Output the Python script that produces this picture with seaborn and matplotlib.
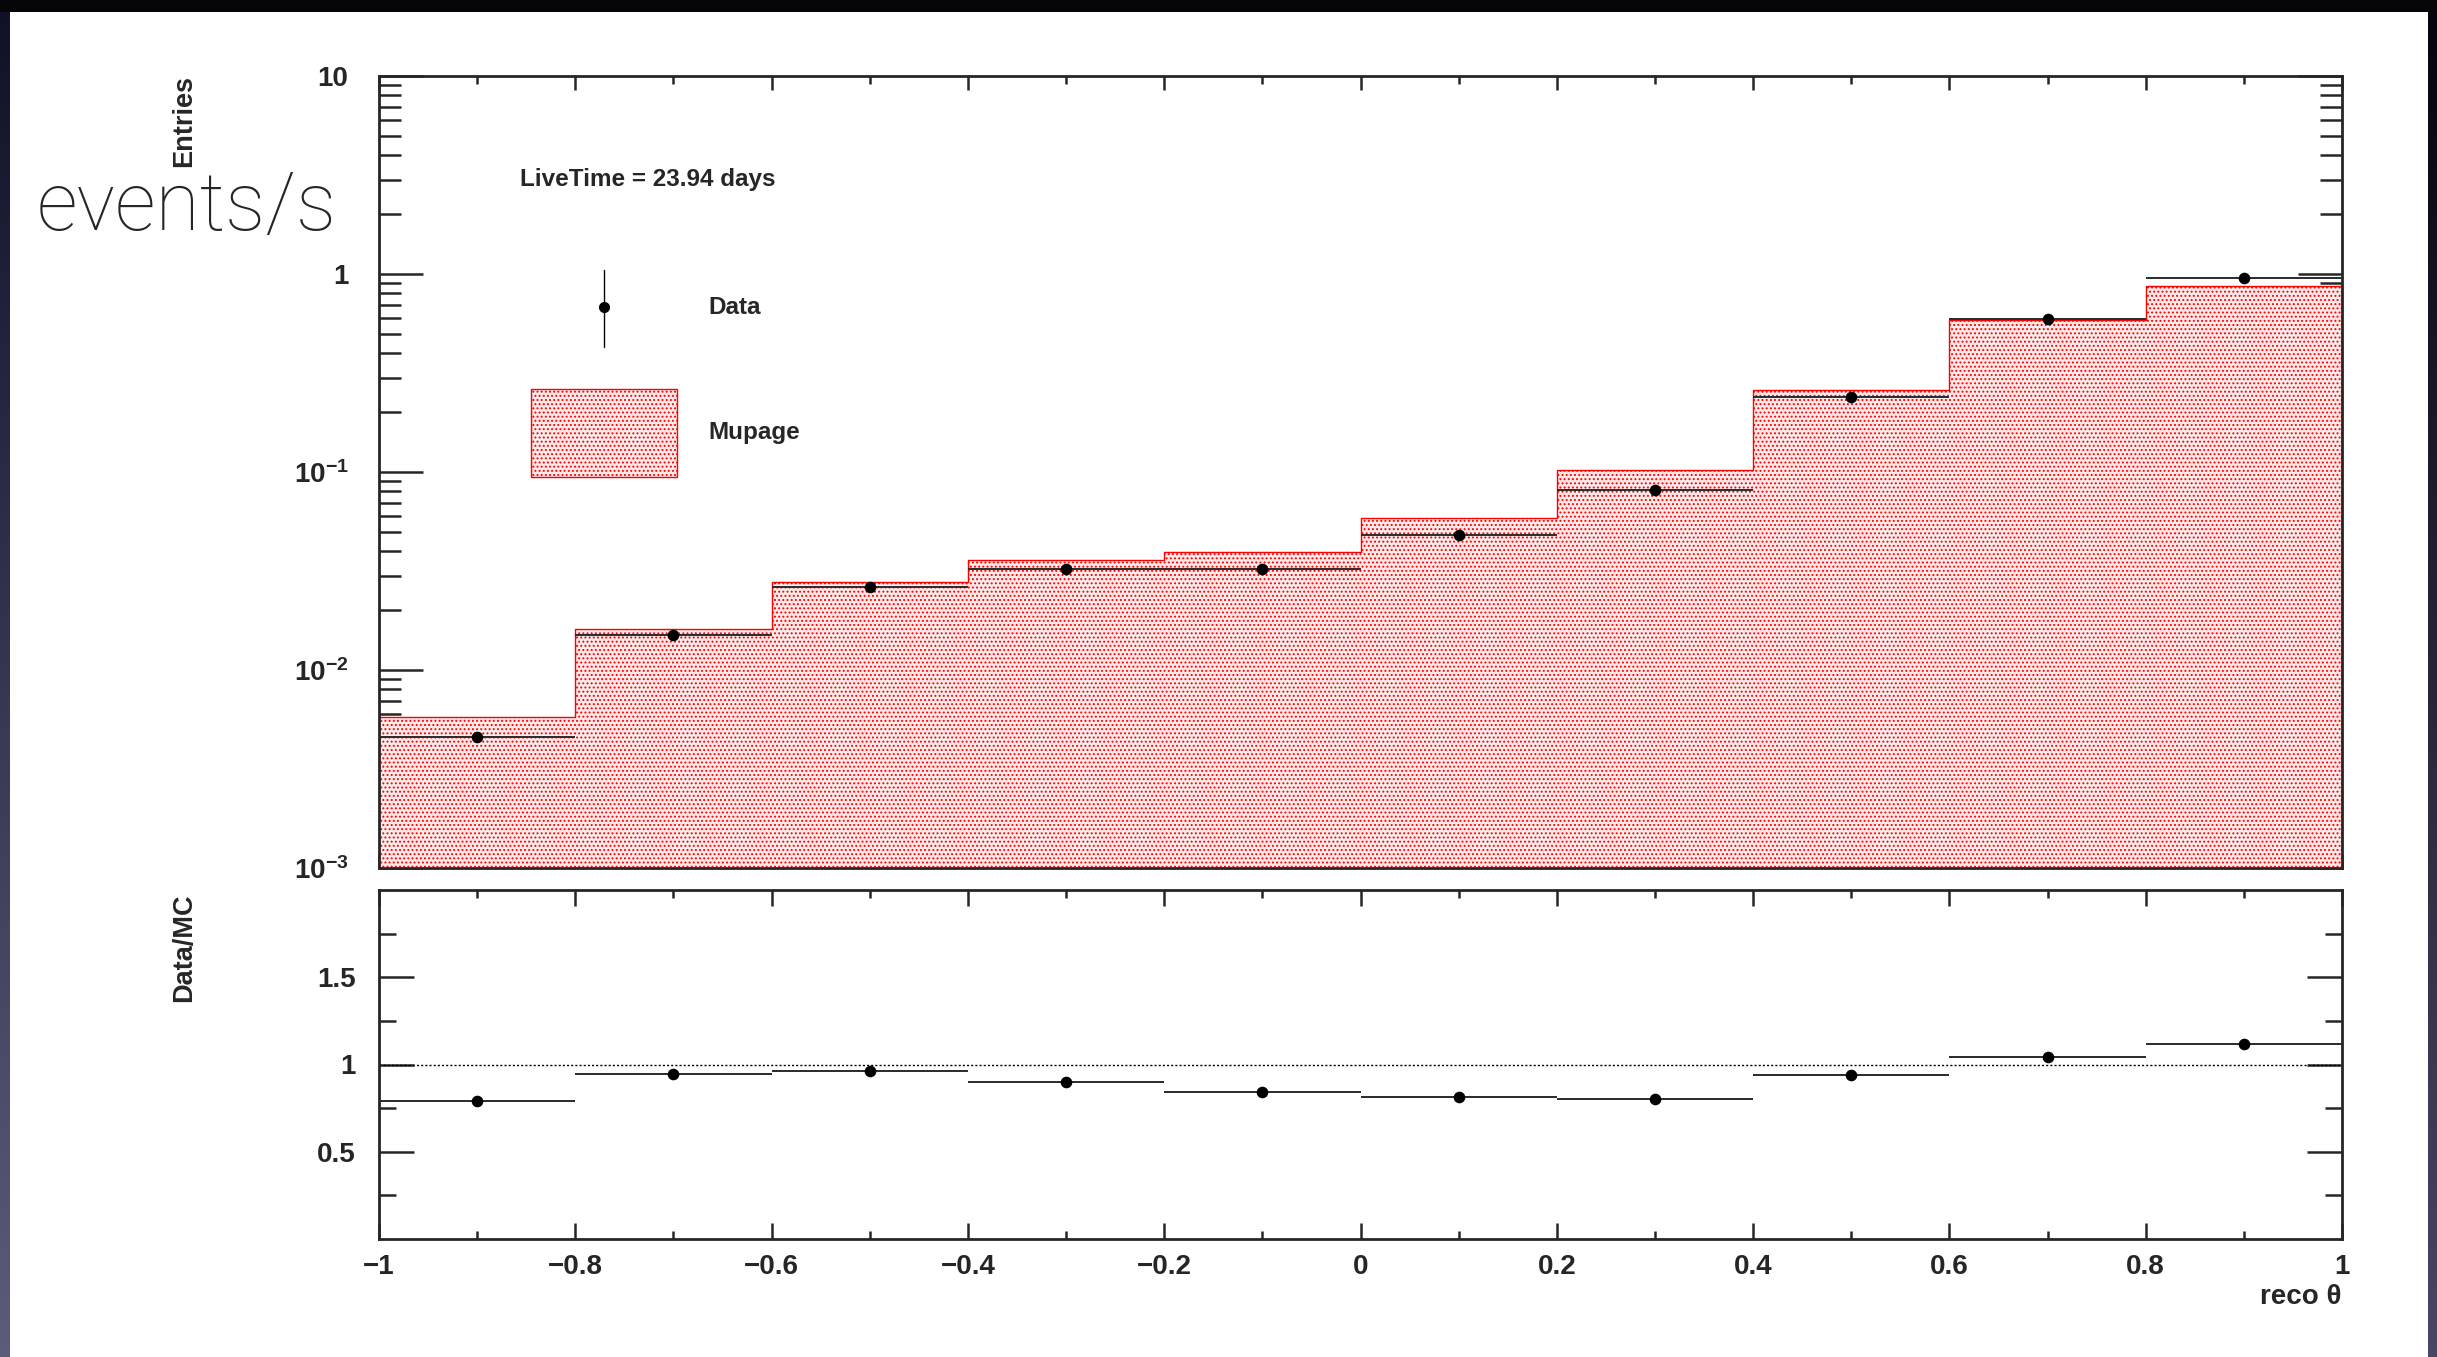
import matplotlib

matplotlib.use("Agg")
import matplotlib.pyplot as plt
import numpy as np
import seaborn as sns
from matplotlib.lines import Line2D
from matplotlib.patches import Rectangle
from matplotlib.ticker import FixedLocator, MultipleLocator, LogLocator, NullFormatter

# binning of reco theta (10 bins from -1 to 1)
bin_edges = [-1.0, -0.8, -0.6, -0.4, -0.2, 0.0, 0.2, 0.4, 0.6, 0.8, 1.0]
bin_centers = [-0.9, -0.7, -0.5, -0.3, -0.1, 0.1, 0.3, 0.5, 0.7, 0.9]

# Mupage MC rate (events/s) per bin
mc_rate = [0.00578, 0.0162, 0.0279, 0.0360, 0.0394, 0.0586, 0.1028, 0.259, 0.583, 0.869]
# data rate (events/s) per bin
data_rate = [0.00457, 0.0151, 0.0264, 0.0323, 0.0323, 0.0481, 0.0813, 0.240, 0.594, 0.951]
# Data/MC ratio
ratio = [0.79, 0.947, 0.965, 0.90, 0.84, 0.814, 0.805, 0.938, 1.044, 1.115]

x_ticks = [-1.0, -0.8, -0.6, -0.4, -0.2, 0.0, 0.2, 0.4, 0.6, 0.8, 1.0]
x_labels = ["\u22121", "\u22120.8", "\u22120.6", "\u22120.4", "\u22120.2", "0",
            "0.2", "0.4", "0.6", "0.8", "1"]
log_ticks = [1e-3, 1e-2, 1e-1, 1, 10]
log_labels = ["$10^{-3}$", "$10^{-2}$", "$10^{-1}$", "1", "10"]
ratio_ticks = [0.5, 1.0, 1.5]
ratio_labels = ["0.5", "1", "1.5"]

W, H = 2437, 1357

sns.set_style("white")
plt.rcParams["font.family"] = ["Liberation Sans", "DejaVu Sans"]
plt.rcParams["font.weight"] = "bold"
plt.rcParams["mathtext.fontset"] = "custom"
plt.rcParams["mathtext.rm"] = "Liberation Sans:bold"
plt.rcParams["mathtext.it"] = "Liberation Sans:bold"
plt.rcParams["mathtext.bf"] = "Liberation Sans:bold"
plt.rcParams["axes.linewidth"] = 2.0
plt.rcParams["hatch.linewidth"] = 0.9
plt.rcParams["hatch.color"] = "red"

fig = plt.figure(figsize=(W / 100, H / 100), dpi=100, facecolor="#050509")
fig.patches.append(
    Rectangle((10 / W, 0), (2428 - 10) / W, 1 - 12 / H, transform=fig.transFigure,
              facecolor="white", edgecolor="none", zorder=-5)
)

# dark side bands with a slight gradient
for x0, w, top_c, bot_c in [(0, 10, (0.06, 0.07, 0.16), (0.36, 0.36, 0.48)),
                           (2428, 9, (0.02, 0.02, 0.06), (0.28, 0.28, 0.40))]:
    band = fig.add_axes([x0 / W, 0, w / W, 1 - 12 / H])
    t = np.linspace(0, 1, 256)[:, None]
    grad = np.array(top_c)[None, None, :] * (1 - t[..., None]) + np.array(bot_c)[None, None, :] * t[..., None]
    band.imshow(grad, aspect="auto", extent=(0, 1, 0, 1))
    band.set_axis_off()

ax_top = fig.add_axes([379 / W, 1 - 868 / H, (2342 - 379) / W, (868 - 76) / H])
ax_bot = fig.add_axes([379 / W, 1 - 1239 / H, (2342 - 379) / W, (1239 - 890) / H])
for a in (ax_top, ax_bot):
    a.patch.set_alpha(0)

# --- top panel: MC histogram + data points
sns.histplot(x=bin_centers, weights=mc_rate, bins=bin_edges, element="step", fill=True,
             color="red", ax=ax_top)
for coll in ax_top.collections:
    coll.set_facecolor("#fdeaea")
    coll.set_edgecolor("red")
    coll.set_hatch("....")
    coll.set_linewidth(1.0)
    coll.set_alpha(None)

ax_top.errorbar(bin_centers, data_rate, xerr=0.1, fmt="none", ecolor="#2a2a2a",
                elinewidth=1.4, zorder=3)
sns.scatterplot(x=bin_centers, y=data_rate, color="black", s=70, edgecolor="black",
                linewidth=0, ax=ax_top, zorder=4)

ax_top.set_yscale("log")
ax_top.set_xlim(-1, 1)
ax_top.set_ylim(1e-3, 10)
ax_top.set_xlabel("")
ax_top.set_ylabel("")
ax_top.xaxis.set_major_locator(FixedLocator(x_ticks))
ax_top.xaxis.set_minor_locator(MultipleLocator(0.1))
ax_top.xaxis.set_major_formatter(NullFormatter())
ax_top.yaxis.set_major_locator(FixedLocator(log_ticks))
ax_top.set_yticklabels(log_labels)
ax_top.yaxis.set_minor_locator(LogLocator(base=10, subs=np.arange(2, 10)))
ax_top.yaxis.set_minor_formatter(NullFormatter())
ax_top.tick_params(axis="both", which="both", direction="in", top=True, right=True,
                   bottom=True, left=True, labelsize=20, width=1.8)
ax_top.tick_params(axis="x", which="major", length=10)
ax_top.tick_params(axis="x", which="minor", length=6)
ax_top.tick_params(axis="y", which="major", length=32, pad=22)
ax_top.tick_params(axis="y", which="minor", length=16)

# legend drawn by hand, ROOT style
ax_top.text(0.0718, 0.8687, "LiveTime = 23.94 days", transform=ax_top.transAxes,
            fontsize=17.5, fontweight="bold", va="center", ha="left")
ax_top.add_line(Line2D([0.1146, 0.1146], [0.658, 0.755], transform=ax_top.transAxes,
                       color="black", lw=1.0))
ax_top.add_line(Line2D([0.1146], [0.7083], transform=ax_top.transAxes, marker="o",
                       markersize=7, color="black", linestyle="none"))
ax_top.text(0.168, 0.7083, "Data", transform=ax_top.transAxes, fontsize=17.5,
            fontweight="bold", va="center", ha="left")
ax_top.add_patch(Rectangle((0.0774, 0.4937), 0.1518 - 0.0774, 0.6048 - 0.4937,
                           transform=ax_top.transAxes, facecolor="#fdeaea",
                           edgecolor="red", hatch="....", lw=1.0))
ax_top.text(0.168, 0.5505, "Mupage", transform=ax_top.transAxes, fontsize=17.5,
            fontweight="bold", va="center", ha="left")

# --- bottom panel: ratio
ax_bot.axhline(1.0, color="black", lw=1.0, linestyle=(0, (1.5, 1.5)), zorder=1)
ax_bot.errorbar(bin_centers, ratio, xerr=0.1, fmt="none", ecolor="#2a2a2a",
                elinewidth=1.4, zorder=3)
sns.scatterplot(x=bin_centers, y=ratio, color="black", s=70, edgecolor="black",
                linewidth=0, ax=ax_bot, zorder=4)
ax_bot.set_xlim(-1, 1)
ax_bot.set_ylim(0, 2)
ax_bot.set_xlabel("")
ax_bot.set_ylabel("")
ax_bot.xaxis.set_major_locator(FixedLocator(x_ticks))
ax_bot.set_xticklabels(x_labels)
ax_bot.xaxis.set_minor_locator(MultipleLocator(0.1))
ax_bot.yaxis.set_major_locator(FixedLocator(ratio_ticks))
ax_bot.set_yticklabels(ratio_labels)
ax_bot.yaxis.set_minor_locator(FixedLocator([0.25, 0.75, 1.25, 1.75]))
ax_bot.tick_params(axis="both", which="both", direction="in", top=True, right=True,
                   bottom=True, left=True, labelsize=20, width=1.8)
ax_bot.tick_params(axis="x", which="major", length=11.5, pad=11)
ax_bot.tick_params(axis="x", which="minor", length=6)
ax_bot.tick_params(axis="y", which="major", length=25, pad=17)
ax_bot.tick_params(axis="y", which="minor", length=12)
for lab in ax_bot.get_xticklabels() + ax_bot.get_yticklabels() + ax_top.get_yticklabels():
    lab.set_fontweight("bold")

# axis titles
fig.text(2342 / W, 1 - 1297 / H, "reco \u03b8", fontsize=20, fontweight="bold",
         ha="right", va="center")
fig.text(184 / W, 1 - 75 / H, "Entries", fontsize=19.5, fontweight="bold",
         rotation=90, ha="center", va="top")
fig.text(184 / W, 1 - 893 / H, "Data/MC", fontsize=19.5, fontweight="bold",
         rotation=90, ha="center", va="top")
fig.text(37 / W, 1 - 230 / H, "events/s", fontsize=58, family=["Roboto", "DejaVu Sans"],
         fontweight="light", ha="left", va="baseline")

fig.savefig("out.png", dpi=100, facecolor=fig.get_facecolor())
